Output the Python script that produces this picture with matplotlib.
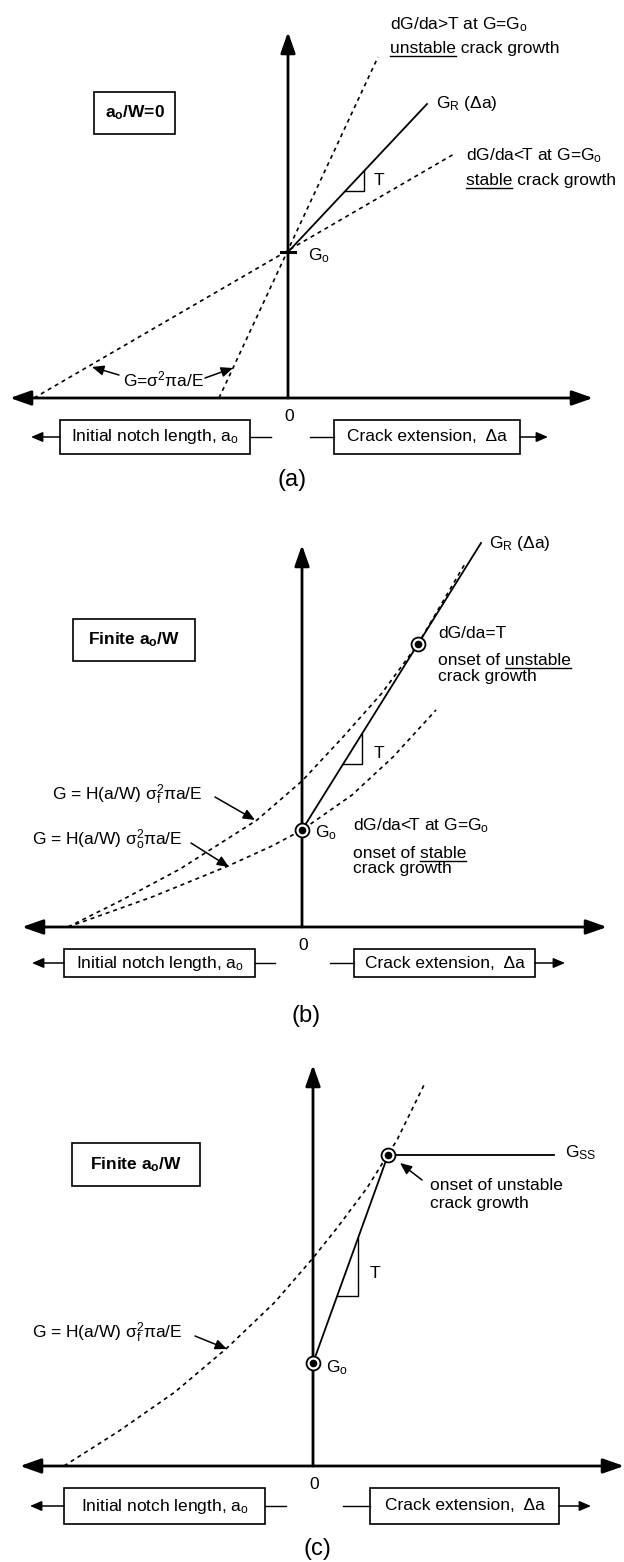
import matplotlib
matplotlib.use("Agg")
import matplotlib.pyplot as plt
import numpy as np
from matplotlib import font_manager
from matplotlib.patches import Rectangle

W, H = 624, 1562

installed = {f.name for f in font_manager.fontManager.ttflist}
face = "Liberation Sans Narrow" if "Liberation Sans Narrow" in installed else "Liberation Sans"
fs = 14 if face == "Liberation Sans Narrow" else 12.5

plt.rcParams["font.family"] = [face, "DejaVu Sans"]
plt.rcParams["mathtext.fontset"] = "custom"
plt.rcParams["mathtext.rm"] = face
plt.rcParams["mathtext.it"] = face
plt.rcParams["mathtext.bf"] = face + ":bold"

# ---- (a) a_o/W = 0 : straight G lines through G_o ----
a_G0 = 146
a_gr_x = [0, 139]
a_gr_g = [146, 294]
a_steep_x = [-69, 90]
a_steep_g = [0, 341]
a_flat_x = [-254, 166]
a_flat_g = [0, 244]
a_tri_x = [57, 76]

# ---- (b) finite a_o/W, rising R-curve ----
b_G0 = 97
b_gr_x = [0, 179]
b_gr_g = [97, 384]
b_onset = (116, 283)
b_tri_x = [41, 60]
b_sf_x = [-234, -180, -122, -45, 0, 41, 80, 116, 164]
b_sf_g = [0, 27, 58, 107, 146, 190, 234, 283, 365]
b_so_x = [-234, -150, -74, -30, 0, 50, 91, 134]
b_so_g = [0, 30, 61, 81, 97, 132, 170, 217]

# ---- (c) finite a_o/W, R-curve with plateau G_ss ----
c_G0 = 103
c_onset = (75, 311)
c_gr_x = [0, 75]
c_gr_g = [103, 311]
c_ss_x = [75, 241]
c_ss_g = [311, 311]
c_tri_x = [24, 45]
c_sf_x = [-249, -194, -138, -86, -38, 0, 24, 54, 84, 111]
c_sf_g = [0, 35, 74, 118, 164, 208, 238, 278, 326, 381]

fig = plt.figure(figsize=(W / 100, H / 100), dpi=100)
renderer = fig.canvas.get_renderer()

DASH = (0, (2.4, 2.4))
AX_ARROW = "-|>,head_length=0.85,head_width=0.3"
SMALL_ARROW = "-|>,head_length=0.7,head_width=0.3"


def panel(ox, oy, top, bottom):
    # one data unit = one pixel, origin where the two axes cross
    ax = fig.add_axes([0, 1 - bottom / H, 1, (bottom - top) / H])
    ax.set_xlim(-ox, W - ox)
    ax.set_ylim(oy - bottom, oy - top)
    ax.axis("off")
    return ax


def arrow(ax, tail, tip, style=SMALL_ARROW, lw=1.1, ms=10):
    ax.annotate("", xy=tip, xytext=tail,
                arrowprops=dict(arrowstyle=style, lw=lw, color="k",
                                mutation_scale=ms, shrinkA=0, shrinkB=0))


def cross(ax, left, right, top):
    ax.annotate("", xy=(left, 0), xytext=(right, 0),
                arrowprops=dict(arrowstyle="<|-|>,head_length=0.85,head_width=0.3",
                                lw=2.0, color="k", mutation_scale=15,
                                shrinkA=0, shrinkB=0))
    arrow(ax, (0, 0), (0, top), style=AX_ARROW, lw=2.0, ms=15)


def width(ax, s, size):
    t = ax.text(0, 0, s, fontsize=size)
    w = t.get_window_extent(renderer).width
    t.remove()
    return w


def label(ax, x, y, s, under=None, size=None, **kw):
    size = size or fs
    ax.text(x, y, s, va="baseline", fontsize=size, **kw)
    if under:
        w = width(ax, under, size)
        x0 = x if s.startswith(under) else x + width(ax, s, size) - w
        ax.plot([x0, x0 + w], [y - 3, y - 3], color="k", lw=1.0)


def box(ax, x0, x1, y0, y1, s, bold=False):
    ax.add_patch(Rectangle((x0, y0), x1 - x0, y1 - y0, fill=False, lw=1.2, ec="k"))
    ax.text((x0 + x1) / 2, (y0 + y1) / 2, s, ha="center", va="center", fontsize=fs,
            fontweight="bold" if bold else "normal")


def bottom_row(ax, lbox, rbox, ymid, h, ltip, lstub, rstub, rtip, tag, tag_y):
    box(ax, lbox[0], lbox[1], ymid - h / 2, ymid + h / 2, r"Initial notch length, a$_\mathrm{o}$")
    box(ax, rbox[0], rbox[1], ymid - h / 2, ymid + h / 2, "Crack extension,  Δa")
    arrow(ax, (lbox[0], ymid), (ltip, ymid))
    arrow(ax, (rbox[1], ymid), (rtip, ymid))
    ax.plot([lbox[1], lstub], [ymid, ymid], color="k", lw=1.0)
    ax.plot([rstub, rbox[0]], [ymid, ymid], color="k", lw=1.0)
    ax.text(1, -11, "0", ha="center", va="top", fontsize=fs)
    ax.text(4, tag_y, tag, ha="center", va="baseline", fontsize=17, family="Liberation Sans")


def triangle(ax, gx, gg, tx):
    g0, g1 = np.interp(tx, gx, gg)
    ax.plot([tx[0], tx[1], tx[1]], [g0, g0, g1], color="k", lw=1.0)


def bullseye(ax, x, g):
    ax.plot(x, g, "o", ms=10, mfc="white", mec="k", mew=1.3, zorder=5)
    ax.plot(x, g, "o", ms=4.5, color="k", zorder=6)


# ================= (a) =================
ax = panel(288, 398, 0, 492)
cross(ax, -278, 305, 366)
ax.plot(a_steep_x, a_steep_g, color="k", lw=1.2, ls=DASH)
ax.plot(a_flat_x, a_flat_g, color="k", lw=1.2, ls=DASH)
ax.plot(a_gr_x, a_gr_g, color="k", lw=1.3)
ax.plot([-7, 7], [a_G0, a_G0], color="k", lw=2.2)
triangle(ax, a_gr_x, a_gr_g, a_tri_x)
label(ax, 86, 213, "T")
label(ax, 20, 138, r"G$_\mathrm{o}$")
label(ax, 148, 290, r"G$_\mathrm{R}$ (Δa)")
label(ax, 102, 369, r"dG/da>T at G=G$_\mathrm{o}$")
label(ax, 102, 345, "unstable crack growth", under="unstable")
label(ax, 178, 238, r"dG/da<T at G=G$_\mathrm{o}$")
label(ax, 178, 213, "stable crack growth", under="stable")
box(ax, -194, -113, 264, 306, r"a$_\mathbf{o}$/W=0", bold=True)
label(ax, -165, 12, r"G=σ$^2$πa/E")
arrow(ax, (-169, 23), (-196, 31))
arrow(ax, (-83, 20), (-55, 30))
bottom_row(ax, (-228, -38), (46, 232), -39, 34, -257, -17, 22, 260, "(a)", -88)

# ================= (b) =================
ax = panel(302, 927, 492, 1025)
cross(ax, -280, 305, 382)
ax.plot(b_sf_x, b_sf_g, color="k", lw=1.2, ls=DASH)
ax.plot(b_so_x, b_so_g, color="k", lw=1.2, ls=DASH)
ax.plot(b_gr_x, b_gr_g, color="k", lw=1.3)
triangle(ax, b_gr_x, b_gr_g, b_tri_x)
bullseye(ax, 0, b_G0)
bullseye(ax, *b_onset)
label(ax, 72, 169, "T")
label(ax, 13, 90, r"G$_\mathrm{o}$")
label(ax, 187, 379, r"G$_\mathrm{R}$ (Δa)")
label(ax, 136, 289, "dG/da=T")
label(ax, 136, 262, "onset of unstable", under="unstable")
label(ax, 136, 246, "crack growth")
label(ax, 51, 97, r"dG/da<T at G=G$_\mathrm{o}$")
label(ax, 51, 69, "onset of stable", under="stable")
label(ax, 51, 54, "crack growth")
box(ax, -229, -107, 266, 308, r"Finite a$_\mathbf{o}$/W", bold=True)
label(ax, -250, 127, r"G = H(a/W) σ$_\mathrm{f}^2$πa/E")
arrow(ax, (-87, 130), (-47, 107))
label(ax, -270, 82, r"G = H(a/W) σ$_\mathrm{o}^2$πa/E")
arrow(ax, (-111, 84), (-73, 60))
bottom_row(ax, (-238, -47), (52, 233), -36, 28, -270, -27, 28, 263, "(b)", -95)

# ================= (c) =================
ax = panel(313, 1466, 1025, 1562)
cross(ax, -293, 311, 401)
ax.plot(c_sf_x, c_sf_g, color="k", lw=1.2, ls=DASH)
ax.plot(c_gr_x, c_gr_g, color="k", lw=1.3)
ax.plot(c_ss_x, c_ss_g, color="k", lw=1.3)
triangle(ax, c_gr_x, c_gr_g, c_tri_x)
bullseye(ax, 0, c_G0)
bullseye(ax, *c_onset)
label(ax, 57, 188, "T")
label(ax, 13, 94, r"G$_\mathrm{o}$")
label(ax, 252, 309, r"G$_\mathrm{SS}$")
arrow(ax, (109, 286), (87, 303))
label(ax, 117, 276, "onset of unstable")
label(ax, 117, 258, "crack growth")
box(ax, -241, -113, 280, 323, r"Finite a$_\mathbf{o}$/W", bold=True)
label(ax, -281, 128, r"G = H(a/W) σ$_\mathrm{f}^2$πa/E")
arrow(ax, (-118, 130), (-86, 117))
bottom_row(ax, (-249, -48), (57, 246), -40, 36, -283, -27, 30, 278, "(c)", -89)

fig.savefig("out.png", dpi=100)
